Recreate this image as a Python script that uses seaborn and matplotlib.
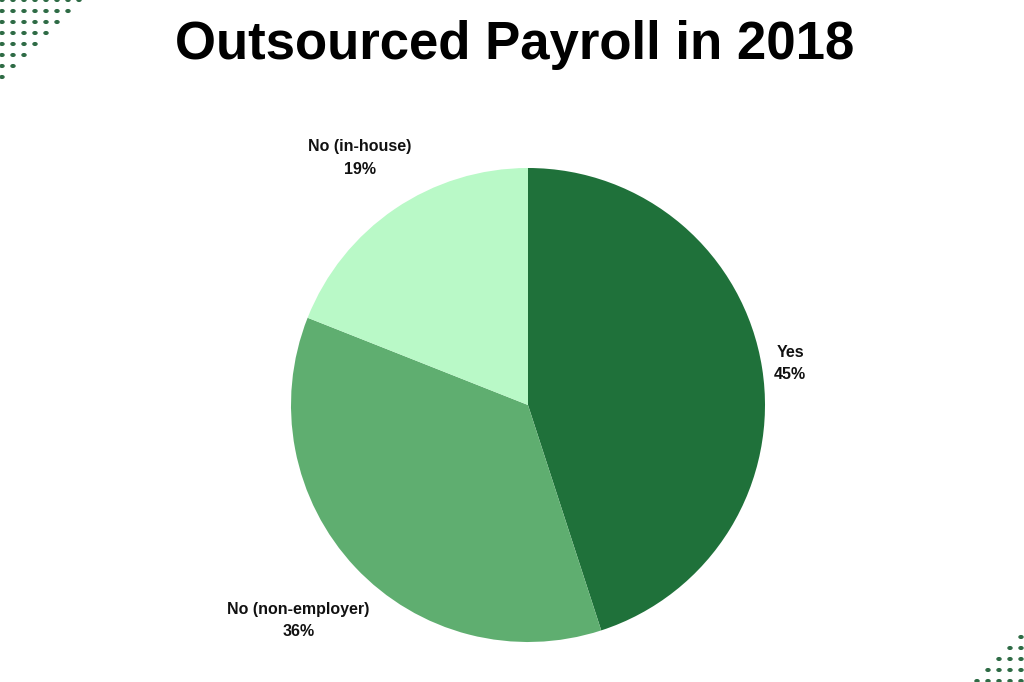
import matplotlib
matplotlib.use("Agg")
import matplotlib.pyplot as plt
import seaborn as sns
import numpy as np

sns.set_theme(style="white")
plt.rcParams['font.family'] = ['Liberation Sans', 'DejaVu Sans']

categories = ["Yes", "No (non-employer)", "No (in-house)"]
values = [45, 36, 19]
colors = ["#1f713a", "#5fae70", "#b9f9c7"]
label_dist = [1.12, 1.33, 1.26]

fig = plt.figure(figsize=(10.24, 6.82), dpi=100)
fig.patch.set_facecolor("white")
ax = fig.add_axes([(528 - 237) / 1024, 40 / 682, 474 / 1024, 474 / 682])
wedges, texts = ax.pie(values, colors=colors, startangle=90, counterclock=False,
                       wedgeprops=dict(linewidth=0))
for w, name, v, d in zip(wedges, categories, values, label_dist):
    mid = np.deg2rad((w.theta1 + w.theta2) / 2)
    ax.text(d * np.cos(mid), d * np.sin(mid), f"{name}\n{v}%", ha="center", va="center",
            fontsize=11.5, fontweight="bold", linespacing=1.6, color="#111111")
ax.set_aspect("equal")
ax.set_xlim(-1, 1); ax.set_ylim(-1, 1)
ax.axis("off")

fig.text(515 / 1024, 1 - 45 / 682, "Outsourced Payroll in 2018", ha="center", va="center",
         fontsize=38, fontweight="bold", color="black")

# decorative dots
dc = "#2e6b45"
for r in range(8):
    y = 0 + r * 11
    n = 8 - r
    for c in range(n):
        fig.add_artist(plt.Circle(((2 + c * 11) / 1024, 1 - y / 682), 2 / 1024 * 1.0,
                                  transform=fig.transFigure, color=dc))
for r in range(5):
    y = 637 + r * 11
    n = r + 1
    for c in range(n):
        x = 1021 - c * 11
        fig.add_artist(plt.Circle((x / 1024, 1 - y / 682), 2 / 1024,
                                  transform=fig.transFigure, color=dc))

fig.savefig("out.png", dpi=100, facecolor="white")
